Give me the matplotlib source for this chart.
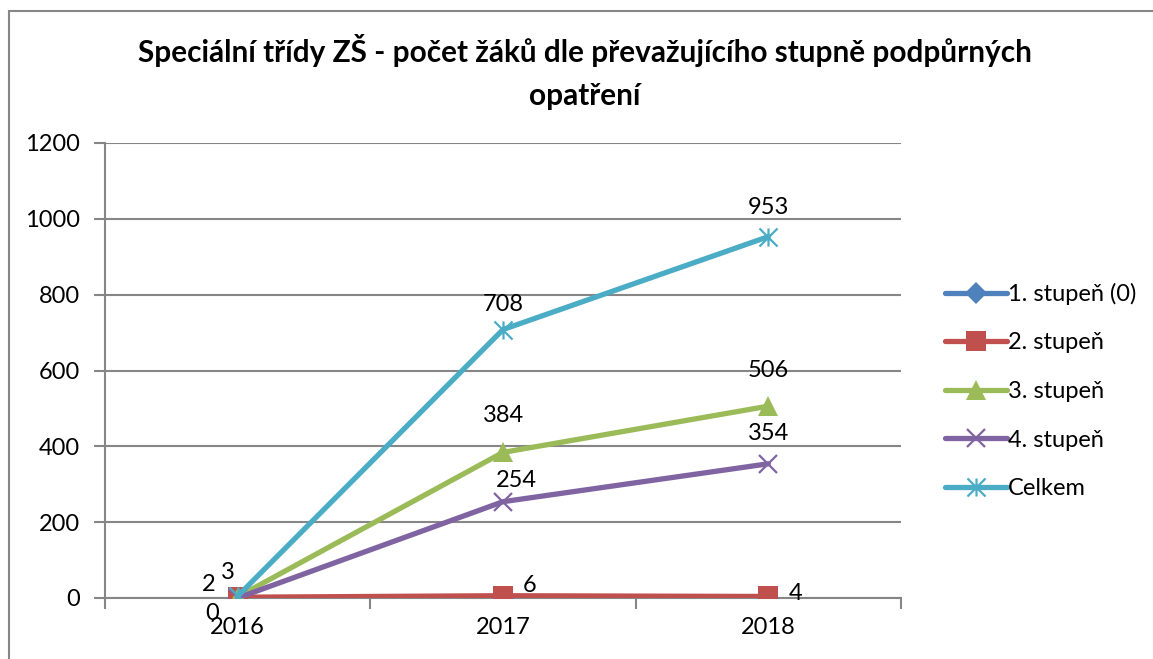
import matplotlib
matplotlib.use("Agg")
import matplotlib.pyplot as plt
from matplotlib.path import Path
from matplotlib.patches import Rectangle

plt.rcParams['font.family'] = ['Lato', 'DejaVu Sans']

# data
years = ['2016', '2017', '2018']
stupen1 = [0, 0, 0]
stupen2 = [2, 6, 4]
stupen3 = [3, 384, 506]
stupen4 = [0, 254, 354]
celkem = [5, 708, 953]
series_names = ['1. stupeň (0)', '2. stupeň', '3. stupeň', '4. stupeň', 'Celkem']

colors = ['#4F81BD', '#C0504D', '#9BBB59', '#8064A2', '#4BACC6']
title = 'Speciální třídy ZŠ - počet žáků dle převažujícího stupně podpůrných\nopatření'

# asterisk marker like excel's star
star = Path([(-1, -1), (1, 1), (-1, 1), (1, -1), (0, -1), (0, 1)],
            [Path.MOVETO, Path.LINETO, Path.MOVETO, Path.LINETO, Path.MOVETO, Path.LINETO])

fig = plt.figure(figsize=(11.53, 6.59), dpi=100)
ax = fig.add_axes([105/1153, 1-598/659, (901-105)/1153, (598-143)/659])

# outer chart border
fig.patches.append(Rectangle((9/1153, -0.05), 1.1, 1-11/659+0.05, transform=fig.transFigure,
                             fill=False, edgecolor='#868686', linewidth=1.5))

x = range(len(years))
all_series = [stupen1, stupen2, stupen3, stupen4, celkem]
markers = ['D', 's', '^', 'x', star]
msizes = [11, 14, 14, 13, 13]
for i, vals in enumerate(all_series):
    kw = dict(color=colors[i], lw=3.8, marker=markers[i], markersize=msizes[i],
              label=series_names[i], solid_capstyle='round', zorder=3+i)
    if i >= 3:
        kw.update(markeredgewidth=1.6, markerfacecolor='none', markeredgecolor=colors[i])
    else:
        kw.update(markeredgewidth=0, markerfacecolor=colors[i])
    ax.plot(x, vals, **kw)

# data labels (series index, point index, dx, dy in pixels)
label_pos = [
    (1, 0, -29, 13), (1, 1, 27, 10), (1, 2, 27, 3),
    (2, 0, -10, 24), (2, 1, 0, 37), (2, 2, 0, 36),
    (3, 0, -26, -16), (3, 1, 13, 21), (3, 2, 0, 30),
    (4, 1, 0, 25), (4, 2, 0, 29),
]
for s, p, dx, dy in label_pos:
    ax.annotate(str(all_series[s][p]), (p, all_series[s][p]), xytext=(dx, dy),
                textcoords='offset pixels', ha='center', va='center', fontsize=17,
                zorder=10, annotation_clip=False)

ax.set_xlim(-0.5, 2.5)
ax.set_ylim(0, 1200)
ax.set_yticks(range(0, 1201, 200))
ax.set_xticks(list(x))
ax.set_xticklabels(years)
ax.set_xticks([-0.5, 0.5, 1.5, 2.5], minor=True)
ax.tick_params(axis='x', which='major', length=0, pad=14, labelsize=17)
ax.tick_params(axis='x', which='minor', length=8, width=1.5, color='#868686', direction='out')
ax.tick_params(axis='y', length=8, width=1.5, color='#868686', pad=10, labelsize=17)
ax.grid(axis='y', color='#868686', lw=1.5)
ax.set_axisbelow(True)
for side in ['top', 'right']:
    ax.spines[side].set_visible(False)
for side in ['left', 'bottom']:
    ax.spines[side].set_color('#868686')
    ax.spines[side].set_linewidth(1.5)

fig.text(585/1153, 1-72/659, title, ha='center', va='center', fontsize=21.4,
         fontweight='bold', linespacing=1.63)

leg = ax.legend(loc='center left', bbox_to_anchor=(924/1153, 1-391/659),
                bbox_transform=fig.transFigure, frameon=False, fontsize=17,
                handlelength=2.6, handletextpad=0.05, labelspacing=1.17)

fig.savefig('out.png', dpi=100)
